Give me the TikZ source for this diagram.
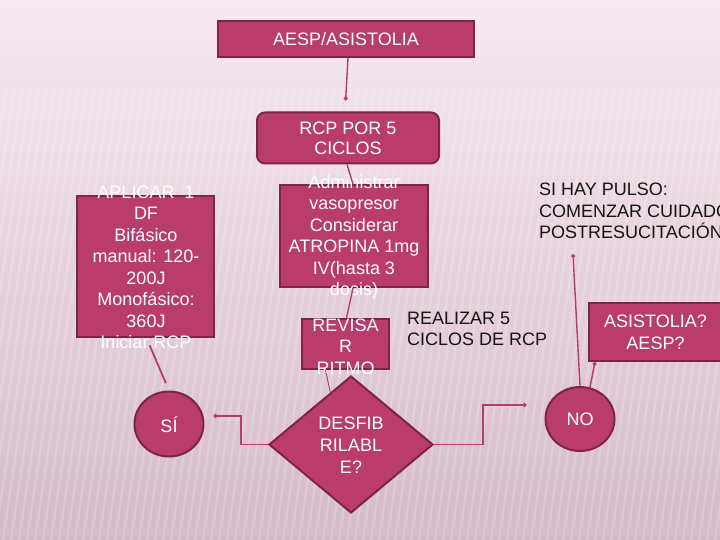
\documentclass[tikz,border=0pt]{standalone}
\usepackage{fontspec}
\setmainfont{Liberation Sans}
\usetikzlibrary{shapes.geometric,arrows.meta,calc}
\definecolor{boxfill}{HTML}{B93C6A}
\definecolor{boxline}{HTML}{7E2349}
\definecolor{conncol}{HTML}{B23E6B}
\definecolor{bgtop}{HTML}{F6EAF0}
\definecolor{bgmid}{HTML}{EBD7E2}
\definecolor{bgbot}{HTML}{D5BAC8}
\tikzset{
  box/.style={draw=boxline, line width=2pt, fill=boxfill, inner sep=0pt},
  wtext/.style={text=white, align=center, font=\fontsize{18}{21.5}\selectfont, inner sep=0pt},
  btext/.style={text=black!92, align=left, font=\fontsize{18}{21.5}\selectfont, inner sep=0pt, anchor=west},
  link/.style={draw=conncol, line width=1.4pt},
  dottip/.style={-{Circle[length=4pt]}}
}
\begin{document}
\begin{tikzpicture}[x=1pt,y=-1pt]
\useasboundingbox (0,0) rectangle (720,540);
\clip (0,0) rectangle (720,540);
% background
\shade[top color=bgtop, middle color=bgmid, bottom color=bgbot] (0,0) rectangle (720,540);
\foreach \x in {-240,-232,...,720} {
  \draw[white, opacity=0.18, line width=2.5pt] (\x,560) -- (\x+70,90);
}
% boxes
\node[box, minimum width=256, minimum height=36] (top) at (346,39) {};
\node[wtext] (toptxt) at (top.center) {AESP/ASISTOLIA};
\node[box, rounded corners=8pt, minimum width=182, minimum height=51] (rcp) at (348,138) {};
\node[wtext, font=\fontsize{18}{20}\selectfont] (rcptxt) at (rcp.center) {RCP POR 5\\CICLOS};
\node[box, minimum width=137, minimum height=141] (apl) at (145.5,266.5) {};
\node[wtext] (apltxt) at (146,267.5) {APLICAR\ \ 1\\DF\\Bifásico\\manual: 120-\\200J\\Monofásico:\\360J\\Iniciar RCP};
\node[box, minimum width=148, minimum height=102] (adm) at (354,236) {};
\node[wtext] (admtxt) at (354,237.5) {Administrar\\vasopresor\\Considerar\\ATROPINA 1mg\\IV(hasta 3\\dosis)};
\node[box, minimum width=87, minimum height=50] (rev) at (345.5,344) {};
\node[wtext] (revtxt) at (345.5,346.5) {REVISA\\R\\RITMO};
\node[box, diamond, aspect=1.197, minimum width=164, minimum height=137] (dia) at (351,444.5) {};
\node[wtext, font=\fontsize{18}{22}\selectfont] (diatxt) at (351,445) {DESFIB\\RILABL\\E?};
\node[box, ellipse, minimum width=69, minimum height=65] (si) at (169,424) {};
\node[wtext] (sitxt) at (169,425) {SÍ};
\node[box, ellipse, minimum width=69, minimum height=64] (no) at (580,419) {};
\node[wtext] (notxt) at (580,419) {NO};
\node[box, minimum width=133, minimum height=58] (asis) at (655.5,332) {};
\node[wtext] (asistxt) at (655.5,332.5) {ASISTOLIA?\\AESP?};
% plain texts
\node[btext] (real) at (407,329) {REALIZAR 5\\CICLOS DE RCP};
\node[btext] (pulso) at (539,211) {SI HAY PULSO:\\COMENZAR CUIDADOS\\POSTRESUCITACIÓN};
% connectors
\coordinate (pulsoend) at (573,254);
\draw[link, dottip, shorten >=11pt] ([xshift=2pt]top.south) -- ([xshift=-3pt]rcp.north);
\draw[link] ([xshift=-1pt]rcp.south) -- ([xshift=-1pt]adm.north);
\draw[link] ([xshift=-1pt]adm.south) -- ([xshift=1pt]rev.north);
\draw[link, line width=0.9pt] ([xshift=-20pt]rev.south) -- ($(dia.north)!0.25!(dia.west)$);
\draw[link, dottip] (dia.west) -- ++(-27,0) |- ($(si.east)+(9,-8)$);
\draw[link, dottip] (dia.east) -- ++(49,0) |- ($(no.west)+(-18,-14)$);
\draw[link, line width=1.8pt, shorten <=8pt, shorten >=8pt] ([xshift=1pt]apl.south) -- (si.north);
\draw[link, dottip] (no.north) -- (pulsoend);
\draw[link, dottip] ([xshift=10pt,yshift=-1pt]no.north) -- ([xshift=7pt]asis.south west);
\end{tikzpicture}
\end{document}
